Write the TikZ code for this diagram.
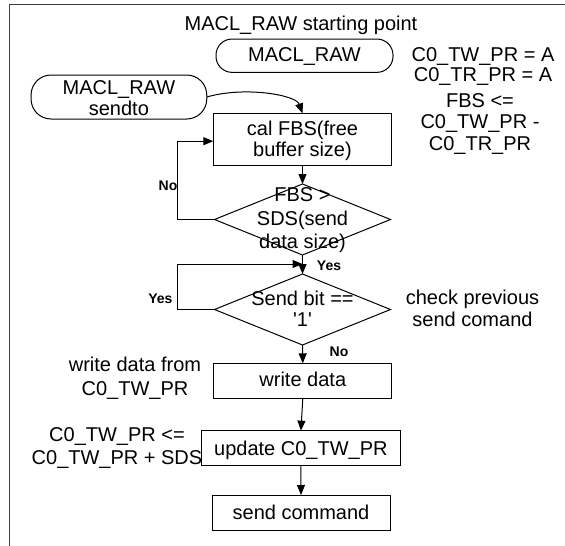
\documentclass[tikz,border=0pt]{standalone}
\usepackage{fontspec}
\setmainfont{Liberation Sans}
\usetikzlibrary{shapes.geometric,arrows.meta}
\newcommand{\ml}[2][c]{\begin{tabular}[#1]{@{}c@{}}#2\end{tabular}}
\begin{document}
\begin{tikzpicture}[x=1pt,y=-1pt,
  every node/.style={inner sep=0pt, outer sep=0pt},
  txt/.style={font=\fontsize{20}{21}\selectfont},
  lbl/.style={font=\fontsize{14}{16}\selectfont\bfseries},
  boxnode/.style={draw, line width=1pt, rectangle, txt},
  term/.style={draw, line width=1pt, rectangle, txt},
  dia/.style={draw, line width=1pt, diamond, minimum width=176pt, minimum height=71pt},
  arr/.style={line width=1pt, -{Triangle[length=10pt,width=8pt]}},
]
\useasboundingbox (0,0) rectangle (565,546);
% frame
\draw[line width=1.2pt, black!75] (9.5,546) -- (9.5,4.3) -- (565,4.3);

% texts
\node[txt, anchor=base] (title) at (301,30.7) {MACL\_RAW starting point};
\node[txt, anchor=base, font=\fontsize{20}{20}\selectfont] (init) at (483,61) {\ml[t]{C0\_TW\_PR = A\\C0\_TR\_PR = A}};
\node[txt, anchor=base, font=\fontsize{20}{21.2}\selectfont] (fbsnote) at (480,107.7) {\ml[t]{FBS <=\\C0\_TW\_PR -\\C0\_TR\_PR}};
\node[txt, anchor=base, font=\fontsize{20}{22.7}\selectfont] (chk) at (472.5,304) {\ml[t]{check previous\\send comand}};
\node[txt, anchor=base, font=\fontsize{20}{23.3}\selectfont] (wdnote) at (135,371.7) {\ml[t]{write data from\\C0\_TW\_PR}};
\node[txt, anchor=base, font=\fontsize{20}{22.5}\selectfont] (upnote) at (117,441.7) {\ml[t]{C0\_TW\_PR <=\\C0\_TW\_PR + SDS}};

% shapes
\node[term, rounded corners=16pt, minimum width=177pt, minimum height=33.3pt, text height=15pt, text depth=3pt] (start) at (304.5,55.7) {MACL\_RAW};
\node[term, rounded corners=20pt, minimum width=175.7pt, minimum height=44pt, text height=14pt, text depth=20pt] (sendto) at (118.9,97) {\ml[t]{MACL\_RAW\\sendto}};
\node[boxnode, minimum width=178.4pt, minimum height=51.7pt, text height=14pt, text depth=22.4pt] (box1) at (302.5,139.2) {\ml[t]{cal FBS(free\\buffer size)}};
\node[dia] (d1) at (302.5,219.5) {};
\node[txt, anchor=base, font=\fontsize{20}{23.3}\selectfont] (d1t) at ([yshift=17.8pt]d1.center) {\ml[t]{FBS >\\SDS(send\\data size)}};
\node[dia] (d2) at (302.5,309.5) {};
\node[txt, anchor=base, font=\fontsize{20}{21.7}\selectfont] (d2t) at ([yshift=4.5pt]d2.center) {\ml[t]{Send bit ==\\\textquotesingle 1\textquotesingle}};
\node[boxnode, minimum width=178.3pt, minimum height=35pt, text height=14pt, text depth=3.6pt] (wd) at (302.8,380.8) {write data};
\node[boxnode, minimum width=198.2pt, minimum height=35.3pt, text height=15pt, text depth=1.6pt] (up) at (300.9,448.3) {update C0\_TW\_PR};
\node[boxnode, minimum width=178pt, minimum height=35pt, text height=15pt, text depth=1.4pt] (sc) at (301,512.5) {send command};

% connectors
\draw[arr] (sendto.east) .. controls (245,86) and (296,95) .. (box1.north);
\draw[arr] (box1.south) -- (d1.north);
\draw[arr] (d1.west) -- ++(-36.6,0) |- ([yshift=-2pt]box1.west);
\draw[arr] (d1.south) -- (d2.north);
\coordinate (j) at (302.5,264);
\draw[arr] (d2.west) -- ++(-36.6,0) |- (j);
\draw[arr] (d2.south) -- (wd.north);
\draw[arr] (wd.south) -- (up.north);
\draw[arr] (up.south) -- (sc.north);

% branch labels
\node[lbl, anchor=base] (no1) at (168,190) {No};
\node[lbl, anchor=base] (yes1) at (329,270) {Yes};
\node[lbl, anchor=base] (yes2) at (160.4,303) {Yes};
\node[lbl, anchor=base] (no2) at (339,356.7) {No};
\end{tikzpicture}
\end{document}
